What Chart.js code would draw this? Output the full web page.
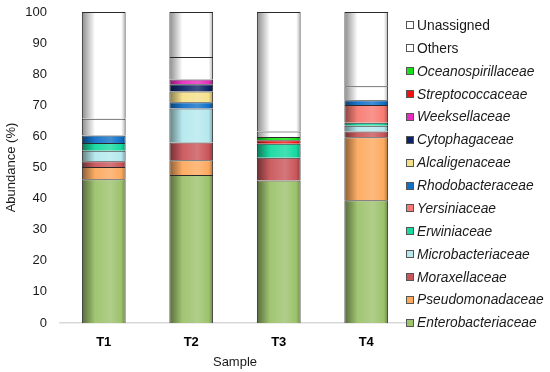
<!DOCTYPE html>
<html>
<head>
<meta charset="utf-8">
<script src="https://cdn.jsdelivr.net/npm/chart.js@4.4.1/dist/chart.umd.min.js"></script>
<style>
  html, body { margin: 0; padding: 0; background: #fff; }
  #wrap { position: relative; width: 550px; height: 372px; }
  #legend { position: absolute; left: 406px; top: 14px; font-family: "Liberation Sans", Arial, sans-serif; font-size: 13.8px; color: #1a1a1a; }
  .item { height: 22.88px; display: flex; align-items: center; white-space: nowrap; }
  .box { width: 6px; height: 6px; border: 1px solid #555; margin-right: 3px; flex: none; }
  .it { font-style: italic; }
</style>
</head>
<body>
<div id="wrap">
  <canvas id="c" width="550" height="372"></canvas>
  <div id="legend"></div>
</div>
<script>
const categories = ['T1', 'T2', 'T3', 'T4'];
const enterobacteriaceae = [46.2, 47.6, 45.8, 39.5];
const pseudomonadaceae   = [4.0, 4.7, 0, 20.2];
const moraxellaceae      = [1.8, 5.7, 7.3, 1.9];
const microbacteriaceae  = [3.4, 11.0, 0, 1.8];
const erwiniaceae        = [2.5, 0, 4.5, 1.0];
const yersiniaceae       = [0, 0, 0, 5.7];
const rhodobacteraceae   = [2.4, 2.0, 0, 1.5];
const alcaligenaceae     = [0, 3.4, 0, 0];
const cytophagaceae      = [0, 2.4, 0, 0];
const weeksellaceae      = [0, 1.5, 0, 0];
const streptococcaceae   = [0, 0, 1.2, 0];
const oceanospirillaceae = [0, 0, 1.0, 0];
const others             = [5.4, 7.2, 1.8, 4.5];
const unassigned         = [34.3, 14.5, 38.4, 23.9];
const yTicks = [0, 10, 20, 30, 40, 50, 60, 70, 80, 90, 100];

const series = [
  { label: 'Enterobacteriaceae', data: enterobacteriaceae, color: '#9cc26c', italic: true },
  { label: 'Pseudomonadaceae', data: pseudomonadaceae, color: '#fca95e', italic: true },
  { label: 'Moraxellaceae', data: moraxellaceae, color: '#c9555a', italic: true },
  { label: 'Microbacteriaceae', data: microbacteriaceae, color: '#b4e8ee', italic: true },
  { label: 'Erwiniaceae', data: erwiniaceae, color: '#14d9a0', italic: true },
  { label: 'Yersiniaceae', data: yersiniaceae, color: '#f77a72', italic: true },
  { label: 'Rhodobacteraceae', data: rhodobacteraceae, color: '#1070c8', italic: true },
  { label: 'Alcaligenaceae', data: alcaligenaceae, color: '#f5e08a', italic: true },
  { label: 'Cytophagaceae', data: cytophagaceae, color: '#0c2466', italic: true },
  { label: 'Weeksellaceae', data: weeksellaceae, color: '#e82cc0', italic: true },
  { label: 'Streptococcaceae', data: streptococcaceae, color: '#f01010', italic: true },
  { label: 'Oceanospirillaceae', data: oceanospirillaceae, color: '#18e018', italic: true },
  { label: 'Others', data: others, color: '#ffffff', italic: false },
  { label: 'Unassigned', data: unassigned, color: '#ffffff', italic: false }
];

function hexToRgb(h) { h = h.replace('#', ''); return [parseInt(h.substr(0,2),16), parseInt(h.substr(2,2),16), parseInt(h.substr(4,2),16)]; }
function mix(hex, target, t) {
  const a = hexToRgb(hex), b = hexToRgb(target);
  return 'rgb(' + a.map((v, i) => Math.round(v + (b[i] - v) * t)).join(',') + ')';
}

function gradFor(color) {
  return function(ctx) {
    const chart = ctx.chart;
    const xs = chart.scales.x;
    if (!xs || ctx.dataIndex === undefined) return color;
    const cx = xs.getPixelForValue(ctx.dataIndex);
    const w = xs.width / categories.length * 0.5;
    if (!isFinite(cx)) return color;
    const g = chart.ctx.createLinearGradient(cx - w / 2, 0, cx + w / 2, 0);
    g.addColorStop(0, mix(color, '#000000', 0.45));
    g.addColorStop(0.3, mix(color, '#ffffff', 0.05));
    g.addColorStop(0.65, mix(color, '#ffffff', 0.2));
    g.addColorStop(0.9, color);
    g.addColorStop(1, mix(color, '#000000', 0.3));
    return g;
  };
}

const datasets = series.map(s => ({
  label: s.label,
  data: s.data,
  backgroundColor: gradFor(s.color),
  borderColor: '#2a2a2a',
  borderWidth: (ctx) => (ctx.raw ? { top: 1, left: 1, right: 1, bottom: 0 } : 0),
  borderSkipped: false,
  barPercentage: 0.5,
  categoryPercentage: 1.0
}));

new Chart(document.getElementById('c'), {
  type: 'bar',
  data: { labels: categories, datasets: datasets },
  options: {
    responsive: false,
    animation: false,
    layout: { padding: { top: 12, right: 140, left: 0, bottom: 0 } },
    plugins: { legend: { display: false }, tooltip: { enabled: false } },
    scales: {
      x: {
        stacked: true,
        grid: { display: false, drawTicks: false },
        border: { display: true, color: '#d9d9d9', width: 1.5 },
        ticks: { color: '#000', padding: 12, font: { family: 'Liberation Sans', size: 13, weight: 'bold' } },
        title: { display: true, text: 'Sample', color: '#1a1a1a', padding: { top: 0, bottom: 2 }, font: { family: 'Liberation Sans', size: 13 } },
        afterFit: (s) => { s.height = 49; s.paddingLeft = 0; s.paddingRight = 0; }
      },
      y: {
        stacked: true,
        min: 0, max: 100,
        afterBuildTicks: (s) => { s.ticks = yTicks.map(v => ({ value: v })); },
        grid: { display: false, drawTicks: false },
        border: { display: false },
        ticks: { color: '#1a1a1a', padding: 13, font: { family: 'Liberation Sans', size: 13 } },
        title: { display: true, text: 'Abundance (%)', color: '#1a1a1a', padding: { top: 4, bottom: 0 }, font: { family: 'Liberation Sans', size: 13 } },
        afterFit: (s) => { s.width = 60; s.paddingTop = 0; s.paddingBottom = 0; }
      }
    }
  }
});

const legend = document.getElementById('legend');
series.slice().reverse().forEach(s => {
  const row = document.createElement('div');
  row.className = 'item';
  const box = document.createElement('span');
  box.className = 'box';
  box.style.background = s.color;
  const txt = document.createElement('span');
  txt.textContent = s.label;
  if (s.italic) txt.className = 'it';
  row.appendChild(box);
  row.appendChild(txt);
  legend.appendChild(row);
});
</script>
</body>
</html>
